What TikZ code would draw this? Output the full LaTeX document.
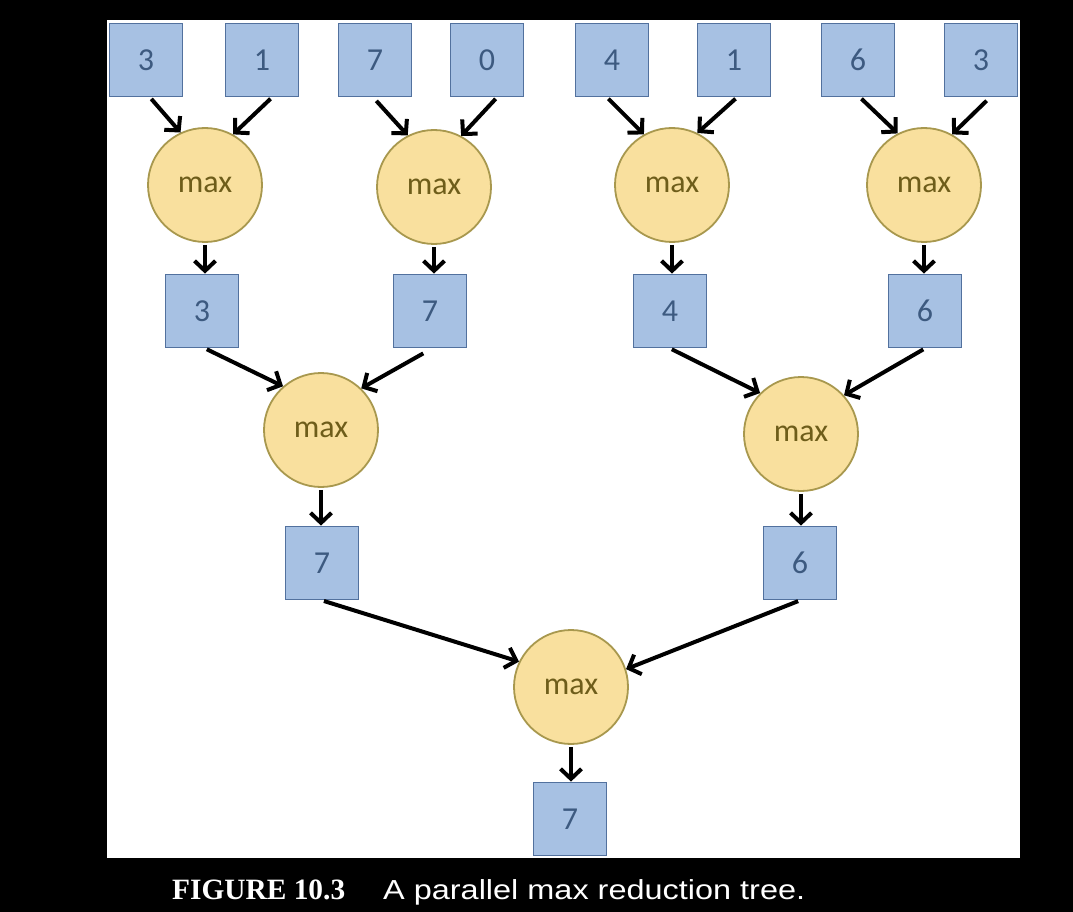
\documentclass[tikz,border=0pt]{standalone}
\usepackage{fontspec}
\setmainfont{Carlito}
\newfontfamily\capserif{Liberation Serif}
\newfontfamily\capsans{Liberation Sans}
\usetikzlibrary{arrows.meta,calc}
\definecolor{boxfill}{HTML}{A7C1E3}
\definecolor{boxline}{HTML}{52719E}
\definecolor{boxtext}{HTML}{3D5A80}
\definecolor{circfill}{HTML}{F9E09E}
\definecolor{circline}{HTML}{A8984E}
\definecolor{circtext}{HTML}{6E5D1A}
\tikzset{
  valbox/.style={draw=boxline, fill=boxfill, line width=1.8pt, minimum size=73pt, inner sep=0pt,
    text=boxtext, font=\fontsize{32}{32}\selectfont},
  maxop/.style={circle, draw=circline, fill=circfill, line width=1.8pt, minimum size=114pt, inner sep=0pt,
    text=circtext, font=\fontsize{32}{32}\selectfont},
  arr/.style={line width=4pt, -{Straight Barb[length=10pt,width=21pt]}, shorten <=2pt},
}
\begin{document}
\begin{tikzpicture}[x=1pt,y=-1pt]
\fill[black] (0,0) rectangle (1073,912);
\useasboundingbox (0,0) rectangle (1073,912);
\fill[white] (107,20) rectangle (1020,858);
% top row
\node[valbox] (b1) at (146,60) {3};
\node[valbox] (b2) at (262,60) {1};
\node[valbox] (b3) at (375,60) {7};
\node[valbox] (b4) at (487,60) {0};
\node[valbox] (b5) at (612,60) {4};
\node[valbox] (b6) at (734,60) {1};
\node[valbox] (b7) at (858,60) {6};
\node[valbox] (b8) at (981,60) {3};
% level 1 max
\node[maxop] (c1) at (205,185) {max};
\node[maxop] (c2) at (434,187) {max};
\node[maxop] (c3) at (672,185) {max};
\node[maxop] (c4) at (924,185) {max};
% level 1 results
\node[valbox] (s1) at (202,311) {3};
\node[valbox] (s2) at (430,311) {7};
\node[valbox] (s3) at (670,311) {4};
\node[valbox] (s4) at (925,311) {6};
% level 2 max
\node[maxop] (c5) at (321,430) {max};
\node[maxop] (c6) at (801,434) {max};
% level 2 results
\node[valbox] (t1) at (322,563) {7};
\node[valbox] (t2) at (800,563) {6};
% final
\node[maxop] (c7) at (571,687) {max};
\node[valbox] (r) at (570,819) {7};
% arrows level 1
\draw[arr] ($(b1.south)+(4,0)$) -- (c1.115);
\draw[arr] ($(b2.south)+(10,0)$) -- (c1.61);
\draw[arr] ($(b3.south)+(0,2)$) -- (c2.117);
\draw[arr] ($(b4.south)+(10,0)$) -- (c2.62);
\draw[arr] ($(b5.south)+(-5,0)$) -- (c3.119);
\draw[arr] ($(b6.south)+(3,0)$) -- (c3.64);
\draw[arr] ($(b7.south)+(2,0)$) -- (c4.117);
\draw[arr] ($(b8.south)+(7,2)$) -- (c4.61);
\draw[arr] (c1.south) -- (c1.south |- s1.north);
\draw[arr] (c2.south) -- (c2.south |- s2.north);
\draw[arr] (c3.south) -- (c3.south |- s3.north);
\draw[arr] (c4.south) -- (c4.south |- s4.north);
% arrows level 2
\draw[arr] ($(s1.south)+(3,0)$) -- (c5.131);
\draw[arr] ($(s2.south)+(-5,4)$) -- (c5.46);
\draw[arr] (s3.south) -- (c6.135);
\draw[arr] (s4.south) -- (c6.42);
\draw[arr] (c5.south) -- (c5.south |- t1.north);
\draw[arr] (c6.south) -- (c6.south |- t2.north);
% arrows level 3
\draw[arr] (t1.south) -- (c7.154);
\draw[arr] (t2.south) -- (c7.18);
\draw[arr] (c7.south) -- (c7.south |- r.north);
% caption
\node[anchor=base west, text=white, inner sep=0pt] (cap1) at (172,899)
  {\resizebox{173pt}{\height}{\capserif\bfseries\fontsize{29.5}{29.5}\selectfont FIGURE 10.3}};
\node[anchor=base west, text=white, inner sep=0pt] (cap2) at (383,899)
  {\resizebox{422pt}{\height}{\capsans\fontsize{27.5}{27.5}\selectfont A parallel max reduction tree.}};
\end{tikzpicture}
\end{document}
